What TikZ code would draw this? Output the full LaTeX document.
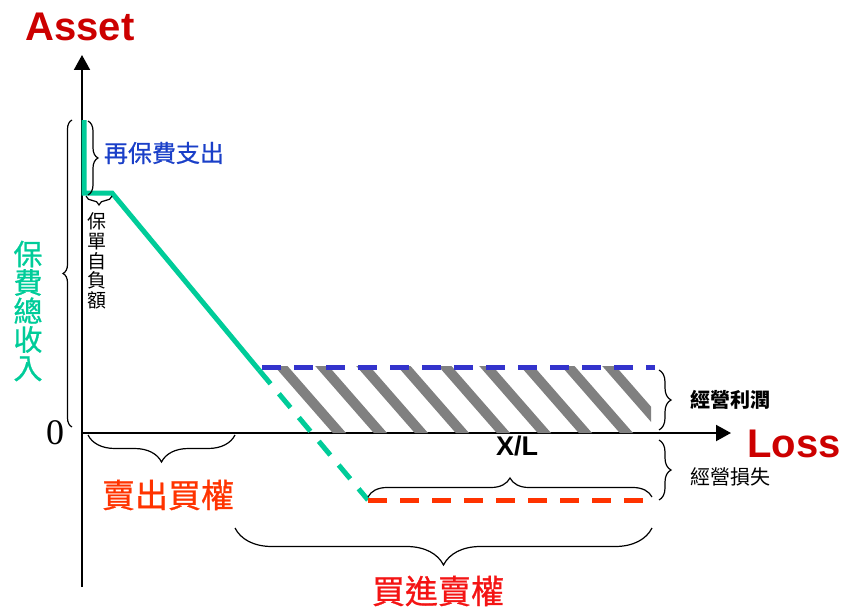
\documentclass[tikz,border=0pt]{standalone}
\usepackage{fontspec}
\setmainfont{Liberation Sans}
\newfontfamily\cjk{Noto Sans CJK TC}
\newfontfamily\cjkm{Noto Sans CJK TC}[FakeBold=0.8]
\newfontfamily\tms{Liberation Serif}
\usetikzlibrary{arrows.meta,decorations.pathreplacing}
\definecolor{grn}{HTML}{00CC99}
\definecolor{bdash}{HTML}{3333CC}
\definecolor{btext}{HTML}{1A3FC8}
\definecolor{orng}{HTML}{FF3300}
\definecolor{rtext}{HTML}{F41414}
\definecolor{dred}{HTML}{CC0000}
\definecolor{hgray}{HTML}{808080}
\begin{document}
\begin{tikzpicture}[x=1pt,y=-1pt,
  axis/.style={line width=2pt,-{Triangle[width=16pt,length=15pt]}},
  gline/.style={grn,line width=5pt,line join=miter},
  gdash/.style={grn,line width=5pt,dash pattern=on 18pt off 13pt},
  hline/.style={line width=5pt,dash pattern=on 19pt off 13pt},
  brc/.style={decorate,decoration={brace,amplitude=#1},line width=1.2pt},
  brcm/.style={decorate,decoration={brace,mirror,amplitude=#1},line width=1.2pt},
  hatch/.style={hgray,line width=10pt},
  lbl/.style={inner sep=0pt,outer sep=0pt},
  vtext/.style={inner sep=0pt,align=center}
]
\useasboundingbox (0,0) rectangle (843,610);

% axes
\coordinate (o) at (82,433);
\coordinate (ytop) at (82,55);
\coordinate (ybot) at (82,587);
\coordinate (xend) at (731,433);
\draw[axis] (ybot) -- (ytop);
\draw[axis] (o) -- (xend);

% hatch region
\coordinate (h1) at (260,366);
\coordinate (h2) at (651,366);
\coordinate (h3) at (651,433);
\coordinate (h4) at (312,433);
\begin{scope}
  \clip (h1) -- (h2) -- (h3) -- (h4) -- cycle;
  \foreach \k in {-1,...,10}
    \draw[hatch] (191+41*\k,357) -- ++(76,87);
\end{scope}

% green payoff line
\coordinate (g0) at (84,120);
\coordinate (g1) at (84,193);
\coordinate (g2) at (112,193);
\coordinate (g3) at (259,370);
\coordinate (g4) at (368,500);
\draw[gline] (g0) -- (g1) -- (g2) -- (g3);
\draw[gdash] (g3) -- (g4);

% blue and red dashed lines
\coordinate (b1) at (262,367);
\coordinate (b2) at (655,367);
\draw[hline,bdash] (b1) -- (b2);
\coordinate (r1) at (368,500);
\coordinate (r2) at (645,500);
\draw[hline,orng] (r1) -- (r2);

% braces
\coordinate (bt1) at (72,427); \coordinate (bt2) at (72,120);
\draw[brc=9pt] (bt1) -- (bt2);
\coordinate (br1) at (88,121); \coordinate (br2) at (88,195);
\draw[brc=10pt] (br1) -- (br2);
\coordinate (bd1) at (86,196); \coordinate (bd2) at (112,196);
\draw[brcm=9pt] (bd1) -- (bd2);
\coordinate (bs1) at (88,435); \coordinate (bs2) at (235,435);
\draw[brcm=27pt] (bs1) -- (bs2);
\coordinate (bx1) at (368,497); \coordinate (bx2) at (652,497);
\draw[brc=19pt] (bx1) -- (bx2);
\coordinate (bb1) at (235,528); \coordinate (bb2) at (652,528);
\draw[brcm=37pt] (bb1) -- (bb2);
\coordinate (bp1) at (659,370); \coordinate (bp2) at (659,430);
\draw[brc=12pt] (bp1) -- (bp2);
\coordinate (bl1) at (659,440); \coordinate (bl2) at (659,500);
\draw[brc=12pt] (bl1) -- (bl2);

% labels
\node[lbl,anchor=base,text=dred,font=\fontsize{40}{40}\selectfont\bfseries] (asset) at (80,41) {Asset};
\node[lbl,anchor=base,text=dred,font=\fontsize{40}{40}\selectfont\bfseries] (loss) at (794,457) {Loss};
\node[lbl,anchor=base,font=\fontsize{27}{27}\selectfont\bfseries] (xl) at (517,455) {X/L};
\node[lbl,anchor=base,font=\tms\fontsize{36}{36}\selectfont] (zero) at (55,444) {0};

\node[lbl,text=btext,font=\cjkm\fontsize{24}{24}\selectfont] (re) at (164,153) {再保費支出};
\node[vtext,text=grn,font=\cjkm\fontsize{29}{28.5}\selectfont] (tot) at (28,311) {保\\費\\總\\收\\入};
\node[vtext,font=\cjk\fontsize{19}{19.6}\selectfont] (ded) at (97,261) {保\\單\\自\\負\\額};
\node[lbl,text=orng,font=\cjkm\fontsize{33}{33}\selectfont] (sell) at (168,495) {賣出買權};
\node[lbl,text=rtext,font=\cjkm\fontsize{33}{33}\selectfont] (buy) at (438,591) {買進賣權};
\node[lbl,font=\cjk\fontsize{20}{20}\selectfont\bfseries] (prof) at (730,400) {經營利潤};
\node[lbl,font=\cjk\fontsize{20}{20}\selectfont] (lossl) at (730,477) {經營損失};
\end{tikzpicture}
\end{document}
